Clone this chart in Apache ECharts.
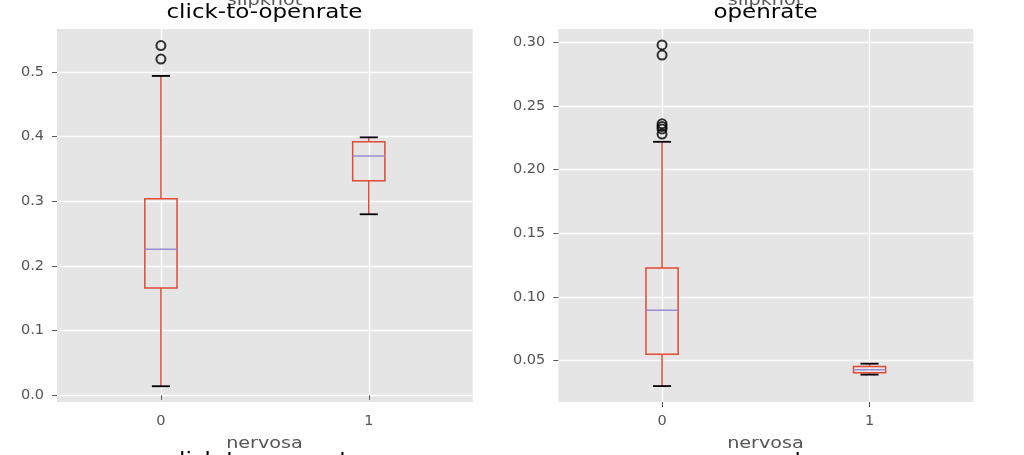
<!DOCTYPE html>
<html>
<head>
<meta charset="utf-8">
<script src="https://cdn.jsdelivr.net/npm/echarts@6/dist/echarts.min.js"></script>
<style>
html, body { margin: 0; padding: 0; background: #fff; }
#chart { width: 1024px; height: 455px; }
</style>
</head>
<body>
<div id="chart"></div>
<script>
// groups on the x axis (nervosa = 0 / 1)
const groups = ['0', '1'];

// box stats per group: [low whisker, q1, median, q3, high whisker]
const clickBoxes = [
    [0.014, 0.166, 0.226, 0.304, 0.494],
    [0.280, 0.332, 0.370, 0.392, 0.399]
];
const openBoxes = [
    [0.030, 0.055, 0.0895, 0.1228, 0.2219],
    [0.039, 0.0404, 0.0428, 0.0453, 0.0476]
];

// outliers: [group index, value]
const clickOutliers = [[0, 0.541], [0, 0.520]];
const openOutliers = [[0, 0.298], [0, 0.290], [0, 0.236], [0, 0.234], [0, 0.232], [0, 0.228]];

// tick values
const clickTicks = [0.0, 0.1, 0.2, 0.3, 0.4, 0.5];
const openTicks = [0.05, 0.10, 0.15, 0.20, 0.25, 0.30];

const FONT = 'DejaVu Sans';
const BOX_RED = '#E24A33';
const MEDIAN = '#988ED5';
const STRETCH = 1.15; // the picture is a bit wider than tall

const chart = echarts.init(document.getElementById('chart'));

function boxData(stats) {
    return stats.map(function (s, i) {
        return [i + 1].concat(s);
    });
}
function outlierData(list) {
    return list.map(function (o) {
        return [o[0] + 1, o[1]];
    });
}

// draws one matplotlib style box: red box + whiskers, black caps, purple median
function renderBox(params, api) {
    const x = api.value(0);
    const p = function (v) { return api.coord([x, api.value(v)]); };
    const cx = api.coord([x, 0])[0];
    const half = api.coord([x + 0.0775, 0])[0] - cx;
    const capHalf = api.coord([x + 0.0435, 0])[0] - cx;
    const low = p(1)[1], q1 = p(2)[1], med = p(3)[1], q3 = p(4)[1], high = p(5)[1];
    const red = { stroke: BOX_RED, lineWidth: 1.5, fill: null };
    const black = { stroke: '#000', lineWidth: 1.8 };
    return {
        type: 'group',
        children: [
            { type: 'line', shape: { x1: cx, y1: low, x2: cx, y2: q1 }, style: red },
            { type: 'line', shape: { x1: cx, y1: q3, x2: cx, y2: high }, style: red },
            { type: 'rect', shape: { x: cx - half, y: q3, width: half * 2, height: q1 - q3 }, style: red },
            { type: 'line', shape: { x1: cx - half, y1: med, x2: cx + half, y2: med }, style: { stroke: MEDIAN, lineWidth: 1.5 } },
            { type: 'line', shape: { x1: cx - capHalf, y1: low, x2: cx + capHalf, y2: low }, style: black },
            { type: 'line', shape: { x1: cx - capHalf, y1: high, x2: cx + capHalf, y2: high }, style: black }
        ]
    };
}

function xAxis(idx) {
    return {
        type: 'value',
        gridIndex: idx,
        min: 0.5,
        max: 2.5,
        axisLine: { show: false },
        axisTick: { show: true, length: 5, lineStyle: { color: '#555', width: 1 }, customValues: [1, 2] },
        axisLabel: {
            customValues: [1, 2],
            color: '#555', fontSize: 14.5, fontFamily: FONT, margin: 12,
            formatter: function (v) { return groups[Math.round(v) - 1]; }
        },
        splitLine: { show: true, lineStyle: { color: '#fff', width: 1.3 } }
    };
}

function yAxis(idx, min, max, ticks, digits) {
    return {
        type: 'value',
        gridIndex: idx,
        min: min,
        max: max,
        axisLine: { show: false },
        axisTick: { show: true, length: 5, lineStyle: { color: '#555', width: 1 }, customValues: ticks },
        axisLabel: {
            customValues: ticks,
            color: '#555', fontSize: 14.5, fontFamily: FONT, margin: 13,
            formatter: function (v) { return v.toFixed(digits); }
        },
        splitLine: { show: true, lineStyle: { color: '#fff', width: 1.3 } }
    };
}

function label(text, x, y, size, color) {
    return {
        type: 'text', x: x, y: y, scaleX: STRETCH, silent: true,
        style: { text: text, fill: color, font: size + 'px "DejaVu Sans"', align: 'center', verticalAlign: 'top' }
    };
}

const outlierStyle = { color: 'rgba(0,0,0,0)', borderColor: '#000', borderWidth: 2 };

const option = {
    animation: false,
    backgroundColor: '#fff',
    grid: [
        { left: 57, top: 29, width: 415.7, height: 373, show: true, backgroundColor: '#E5E5E5', borderWidth: 0 },
        { left: 558.3, top: 29, width: 415, height: 373, show: true, backgroundColor: '#E5E5E5', borderWidth: 0 }
    ],
    xAxis: [xAxis(0), xAxis(1)],
    yAxis: [
        yAxis(0, -0.0104, 0.5666, clickTicks, 1),
        yAxis(1, 0.0175, 0.3105, openTicks, 2)
    ],
    graphic: [
        label('slipknot', 264.5, -8, 16.7, '#555'),
        label('slipknot', 765.5, -8, 16.7, '#555'),
        label('click-to-openrate', 264.5, 3, 20, '#000'),
        label('openrate', 765.5, 3, 20, '#000'),
        label('nervosa', 264.5, 435, 16.7, '#555'),
        label('nervosa', 765.5, 435, 16.7, '#555'),
        label('click-to-openrate', 264.5, 451, 20, '#000'),
        label('openrate', 765.5, 451, 20, '#000')
    ],
    series: [
        {
            type: 'custom', xAxisIndex: 0, yAxisIndex: 0,
            renderItem: renderBox,
            encode: { x: 0, y: [1, 2, 3, 4, 5] },
            data: boxData(clickBoxes), z: 3
        },
        {
            type: 'scatter', xAxisIndex: 0, yAxisIndex: 0,
            symbol: 'circle', symbolSize: 9, itemStyle: outlierStyle,
            data: outlierData(clickOutliers), z: 4
        },
        {
            type: 'custom', xAxisIndex: 1, yAxisIndex: 1,
            renderItem: renderBox,
            encode: { x: 0, y: [1, 2, 3, 4, 5] },
            data: boxData(openBoxes), z: 3
        },
        {
            type: 'scatter', xAxisIndex: 1, yAxisIndex: 1,
            symbol: 'circle', symbolSize: 9, itemStyle: outlierStyle,
            data: outlierData(openOutliers), z: 4
        }
    ]
};

chart.setOption(option);
</script>
</body>
</html>
